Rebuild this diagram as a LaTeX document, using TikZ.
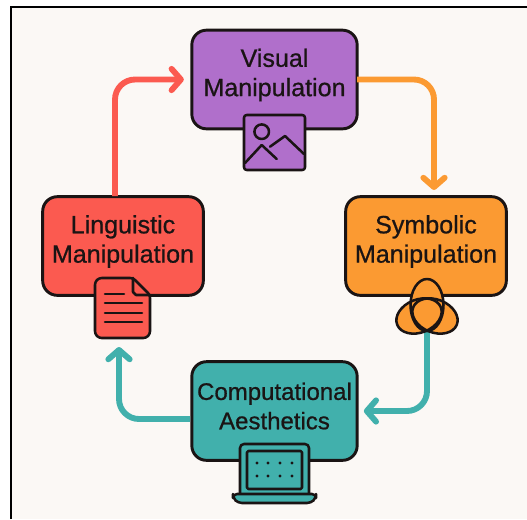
\documentclass[tikz,border=0pt]{standalone}
\usepackage{fontspec}
\setmainfont[FakeBold=0.7]{Liberation Sans}
\usetikzlibrary{arrows.meta}
\definecolor{paper}{HTML}{FBF8F5}
\definecolor{inkline}{HTML}{1A1414}
\definecolor{vispurple}{HTML}{B06FCB}
\definecolor{lingred}{HTML}{FB5A50}
\definecolor{symborange}{HTML}{FB9A32}
\definecolor{compteal}{HTML}{41B0AC}
\tikzset{
    boxshape/.style={draw=inkline, line width=2.2pt, rounded corners=11pt, minimum width=124pt, minimum height=74pt, inner sep=0pt, outer sep=0pt},
    boxtext/.style={text=inkline, font=\fontsize{18.8}{22}\selectfont, align=center, inner sep=0pt},
    iconline/.style={draw=inkline, line width=1.9pt, line join=round, line cap=round},
    loopline/.style={line width=4.4pt, rounded corners=15pt, -{Straight Barb[round,length=7pt,width=16pt]}}
}
\begin{document}
\begin{tikzpicture}[x=0.75pt, y=-0.75pt]
    \useasboundingbox (0,0) rectangle (527,519);
    \fill [white] (0,0) rectangle (527,519);
    \fill [paper] (11,7) rectangle (527,519);
    \draw [black, line width=1.6pt] (11,519) -- (11,7) -- (527,7);

    \begin{scope}[every node/.style={boxshape}]
        \node [fill=vispurple] (visual) at (274.5,79.5) {};
        \node [fill=lingred, minimum width=120.5pt] (ling) at (123,246) {};
        \node [fill=symborange, minimum width=120.5pt] (symb) at (426,246) {};
        \node [fill=compteal] (comp) at (274.5,411) {};
    \end{scope}

    \coordinate (redfoot) at (115,196);
    \coordinate (orangeend) at (434,196);
    \coordinate (vennfoot) at (427,332);
    \coordinate (tealfoot) at (190,419);
    \coordinate (tealend) at (119,347);

    % connectors of the loop
    \draw [loopline, draw=lingred, shorten >=6pt] (redfoot) |- (visual.west);
    \draw [loopline, draw=symborange, shorten >=4.5pt] (visual.east) -| (orangeend);
    \draw [loopline, draw=compteal, shorten >=5pt] (vennfoot) |- (comp.east);
    \draw [loopline, draw=compteal] (tealfoot) -| (tealend);

    \begin{scope}[every node/.style={boxtext}]
        \node (visualtext) at (274.5,75) {Visual\\Manipulation};
        \node (lingtext) at (123,241.5) {Linguistic\\Manipulation};
        \node (symbtext) at (426,241.5) {Symbolic\\Manipulation};
        \node [font=\fontsize{18}{22}\selectfont] (comptext) at (274.5,406) {Computational\\Aesthetics};
    \end{scope}

    % picture icon
    \filldraw [iconline, fill=vispurple, rounded corners=2pt] (244,115) rectangle (305,170);
    \draw [iconline] (261.7,131.7) circle (7.3);
    \draw [iconline] (245,163) -- (261.7,145) -- (276.7,159);
    \draw [iconline] (270,146.7) -- (285,136) -- (304,154);

    % document icon
    \filldraw [iconline, fill=lingred, rounded corners=2pt] (133,278) -- (99,278) -- (95,282) -- (95,334) -- (99,338) -- (146,338) -- (150,334) -- (150,295) -- cycle;
    \draw [iconline] (133,278) -- (133,292) -- (136,295) -- (150,295);
    \draw [iconline] (105,294) -- (124,294);
    \foreach \liney in {303,313,322}
        \draw [iconline] (105,\liney) -- (142,\liney);

    % venn icon
    \fill [symborange] (419,316) ellipse [x radius=23.5, y radius=16.5, rotate=22];
    \fill [symborange] (435,316) ellipse [x radius=23.5, y radius=16.5, rotate=-22];
    \fill [symborange] (427,305) ellipse [x radius=16.5, y radius=26];
    \draw [iconline] (419,316) ellipse [x radius=23.5, y radius=16.5, rotate=22];
    \draw [iconline] (435,316) ellipse [x radius=23.5, y radius=16.5, rotate=-22];
    \draw [iconline] (427,305) ellipse [x radius=16.5, y radius=26];

    % laptop icon
    \filldraw [iconline, fill=compteal, rounded corners=3pt] (240,495) -- (240,444) -- (309,444) -- (309,495);
    \draw [iconline, rounded corners=1pt] (247,451) rectangle (302,489);
    \filldraw [iconline, fill=compteal, rounded corners=3pt] (233,494) -- (316,494) -- (316,498) -- (311,503) -- (238,503) -- (233,498) -- cycle;
    \foreach \doty in {463,476}
        \foreach \dotx in {257,268,280,292}
            \fill [inkline] (\dotx,\doty) circle (1.7);
\end{tikzpicture}
\end{document}
